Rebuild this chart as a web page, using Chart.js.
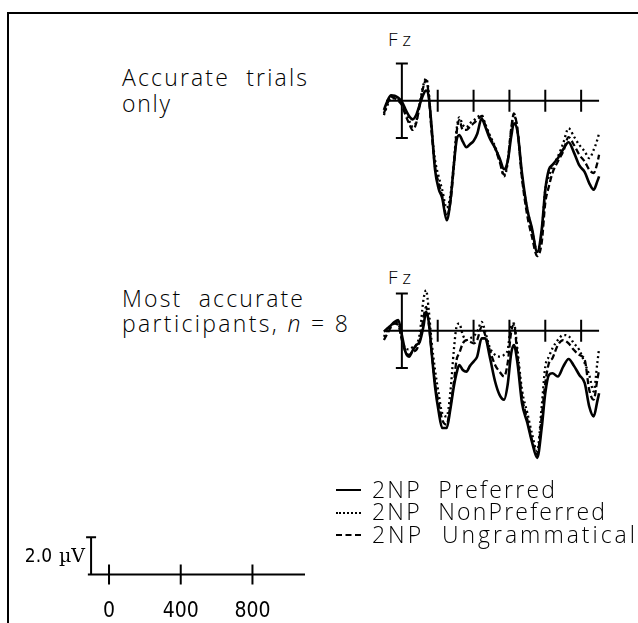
<!DOCTYPE html>
<html>
<head>
<meta charset="utf-8">
<script src="https://cdn.jsdelivr.net/npm/chart.js@4.4.1/dist/chart.umd.min.js"></script>
<style>
  body { margin: 0; background: #fff; }
  #fig { position: relative; width: 638px; height: 623px; overflow: hidden; background: #fff; }
  #frame { position: absolute; left: 7px; top: 12px; width: 700px; height: 700px;
           border-left: 2px solid #000; border-top: 2px solid #000; }
  .box { position: absolute; }
  .txt { position: absolute; font-family: 'Open Sans', Lato, 'DejaVu Sans', sans-serif; font-weight: 300;
         color: #000; white-space: pre; line-height: 1; }
  .big { font-size: 23px; }
  .fz { font-size: 19px; }
  .sample { position: absolute; left: 336px; width: 25px; height: 0; }
</style>
</head>
<body>
<div id="fig">
  <div id="frame"></div>

  <div class="txt big" data-w="185" style="left:122px;top:66px">Accurate  trials</div>
  <div class="txt big" data-w="48" style="left:122px;top:92px">only</div>
  <div class="txt big" data-w="181" style="left:122px;top:287px">Most  accurate</div>
  <div class="txt big" data-w="226" style="left:122px;top:312px">participants, <i>n</i> = 8</div>

  <div class="txt fz" data-w="23" style="left:388px;top:30px">Fz</div>
  <div class="txt fz" data-w="23" style="left:388px;top:268px">Fz</div>

  <div class="box" style="left:366px;top:45px"><canvas id="topPanel" width="251" height="223"></canvas></div>
  <div class="box" style="left:366px;top:275px"><canvas id="bottomPanel" width="251" height="223"></canvas></div>
  <div class="box" style="left:0px;top:500px"><canvas id="scaleBar" width="324" height="121"></canvas></div>

  <div class="sample" style="top:489px;border-top:2.5px solid #000"></div>
  <div class="sample" style="top:512px;border-top:2px dotted #000"></div>
  <div class="sample" style="top:534px;border-top:2.5px dashed #000"></div>
  <div class="txt big" data-w="183" style="left:372px;top:478px">2NP  Preferred</div>
  <div class="txt big" data-w="233" style="left:372px;top:500px">2NP  NonPreferred</div>
  <div class="txt big" data-w="263" style="left:372px;top:523px">2NP  Ungrammatical</div>
</div>

<script>
// time points (ms) shared by every trace
const timesMs = [-100, -80, -60, -40, -20, 0, 20, 40, 60, 80, 100, 120, 135, 150, 165, 185, 205, 225, 250, 270,
  290, 305, 320, 340, 360, 380, 400, 420, 445, 465, 490, 520, 545, 570, 590, 610, 625, 645, 670, 700,
  725, 755, 780, 800, 820, 840, 870, 900, 930, 960, 990, 1020, 1045, 1070, 1090, 1100];

// Accurate trials only (µV, negative plotted up)
const topPreferred = [0.50, 0.00, -0.29, -0.27, -0.16, 0.05, 0.46, 0.82, 1.00, 0.77, 0.20, -0.34, -0.55, -0.21, 1.30,
  3.71, 4.73, 5.23, 6.43, 5.46, 3.45, 2.14, 1.84, 2.20, 2.50, 2.34, 2.16, 1.79, 0.96, 1.39,
  2.02, 2.54, 3.09, 3.68, 3.27, 1.93, 1.21, 1.66, 3.89, 5.86, 6.84, 8.14, 6.93, 4.79, 3.71,
  3.45, 3.09, 2.61, 2.23, 2.79, 3.48, 3.84, 4.43, 4.79, 4.34, 4.07];
const topNonPreferred = [0.77, 0.23, -0.13, -0.13, -0.04, 0.14, 0.59, 1.04, 1.39, 1.13, 0.14, -0.84, -1.20, -0.48, 1.39,
  3.18, 4.07, 4.79, 5.77, 5.14, 3.36, 1.57, 0.89, 1.30, 1.43, 1.21, 1.07, 0.89, 0.77, 1.25,
  1.84, 2.46, 3.18, 4.07, 3.36, 1.57, 0.77, 1.57, 4.07, 5.86, 6.93, 8.09, 7.11, 4.79, 4.07,
  3.54, 3.00, 2.29, 1.48, 1.93, 2.38, 2.73, 3.09, 2.64, 2.11, 1.75];
const topUngrammatical = [0.68, 0.14, -0.21, -0.13, 0.00, 0.23, 0.77, 1.21, 1.57, 1.21, 0.23, -0.75, -1.11, -0.30, 1.57,
  3.54, 4.43, 5.14, 6.21, 5.50, 3.54, 1.75, 1.04, 1.57, 1.57, 1.39, 1.21, 1.04, 0.82, 1.30,
  1.93, 2.55, 3.27, 3.98, 3.27, 1.48, 0.68, 1.57, 4.16, 6.21, 7.29, 8.36, 7.64, 5.50, 4.61,
  3.89, 3.27, 2.73, 1.96, 2.38, 2.91, 3.27, 3.71, 3.89, 3.36, 2.91];

// Most accurate participants, n = 8
const bottomPreferred = [0.05, -0.13, -0.30, -0.48, -0.57, 0.23, 1.13, 1.39, 1.07, 0.77, 0.59, -0.21, -1.02, -0.48, 1.04,
  3.00, 4.34, 5.23, 5.23, 4.25, 3.00, 2.29, 1.84, 2.11, 2.20, 1.89, 1.66, 1.39, 0.41, 0.41,
  1.39, 2.73, 3.45, 3.71, 2.91, 1.21, 0.77, 1.75, 3.89, 4.96, 5.95, 6.84, 5.23, 3.36, 2.38,
  2.29, 2.46, 1.93, 1.52, 1.89, 2.38, 2.82, 4.07, 4.61, 3.80, 3.36];
const bottomNonPreferred = [0.32, -0.04, -0.21, -0.48, -0.39, 0.41, 0.95, 1.00, 0.89, 0.77, 0.14, -1.64, -2.18, -1.11, 0.50,
  2.11, 3.36, 4.43, 4.61, 3.36, 1.04, -0.21, -0.39, 0.23, 0.50, 0.41, 0.29, 0.05, -0.48, 0.05,
  0.89, 1.30, 1.39, 1.30, 1.04, -0.30, -0.39, 1.04, 3.18, 4.43, 5.50, 6.48, 4.07, 1.93, 1.39,
  0.95, 0.50, 0.23, 0.29, 0.68, 1.04, 1.75, 2.38, 3.27, 1.75, 0.95];
const bottomUngrammatical = [0.50, 0.14, -0.21, -0.39, -0.30, 0.50, 1.13, 1.30, 1.13, 1.04, 0.50, -0.66, -1.29, -0.39, 1.04,
  2.82, 3.89, 4.79, 5.05, 4.07, 2.82, 1.57, 1.21, 0.68, 0.50, 0.59, 0.68, 0.50, -0.21, 0.23,
  1.04, 1.84, 2.20, 2.46, 1.75, 0.05, -0.30, 1.39, 3.54, 4.79, 5.86, 6.66, 4.61, 2.82, 1.75,
  1.48, 0.77, 0.50, 0.68, 1.04, 1.30, 1.57, 3.18, 3.71, 2.64, 2.11];

// axis marks
const panelTicksMs = [200, 400, 600, 800, 1000];
const scaleTicksMs = [0, 400, 800];
const scaleTickLabels = ['0', '400', '800'];
const barMicroV = 2;

function points(values) {
  return timesMs.map((t, i) => ({ x: t, y: values[i] }));
}

// baseline, ticks and the +/-2 µV bar of each electrode panel
const panelAxes = {
  id: 'panelAxes',
  beforeDatasetsDraw(chart) {
    const { ctx, scales: { x, y } } = chart;
    const y0 = y.getPixelForValue(0);
    ctx.save();
    ctx.strokeStyle = '#000';
    ctx.lineWidth = 2;
    ctx.beginPath();
    ctx.moveTo(x.getPixelForValue(-88), y0);
    ctx.lineTo(x.getPixelForValue(1100), y0);
    panelTicksMs.forEach(t => {
      const px = x.getPixelForValue(t);
      ctx.moveTo(px, y0 - 11);
      ctx.lineTo(px, y0 + 11);
    });
    const bx = x.getPixelForValue(0);
    const yTop = y.getPixelForValue(-barMicroV);
    const yBot = y.getPixelForValue(barMicroV);
    ctx.moveTo(bx, yTop); ctx.lineTo(bx, yBot);
    ctx.moveTo(bx - 6, yTop); ctx.lineTo(bx + 6, yTop);
    ctx.moveTo(bx - 6, yBot); ctx.lineTo(bx + 6, yBot);
    ctx.stroke();
    ctx.restore();
  }
};

// calibration bar and time axis at the bottom left
const scaleAxes = {
  id: 'scaleAxes',
  afterDraw(chart) {
    const { ctx, scales: { x, y } } = chart;
    const y0 = y.getPixelForValue(0);
    ctx.save();
    ctx.strokeStyle = '#000';
    ctx.lineWidth = 2;
    ctx.beginPath();
    ctx.moveTo(x.getPixelForValue(-118), y0);
    ctx.lineTo(x.getPixelForValue(1093), y0);
    scaleTicksMs.forEach(t => {
      const px = x.getPixelForValue(t);
      ctx.moveTo(px, y0 - 10);
      ctx.lineTo(px, y0 + 10);
    });
    const bx = x.getPixelForValue(-100);
    const yTop = y.getPixelForValue(barMicroV);
    ctx.moveTo(bx, y0); ctx.lineTo(bx, yTop);
    ctx.moveTo(bx - 5, yTop); ctx.lineTo(bx + 5, yTop);
    ctx.stroke();

    ctx.fillStyle = '#000';
    ctx.font = "21px 'DejaVu Sans', sans-serif";
    if ('fontStretch' in ctx) ctx.fontStretch = 'condensed';
    ctx.textAlign = 'center';
    ctx.textBaseline = 'alphabetic';
    scaleTicksMs.forEach((t, i) => {
      ctx.fillText(scaleTickLabels[i], x.getPixelForValue(t), y0 + 43);
    });

    // "2.0 µV" next to the calibration bar
    const labelY = y0 - 12;
    ctx.textAlign = 'right';
    ctx.font = "19px 'DejaVu Serif', serif";
    if ('fontStretch' in ctx) ctx.fontStretch = 'normal';
    const unitRight = bx - 6;
    ctx.fillText('µV', unitRight, labelY);
    const unitW = ctx.measureText('µV').width;
    ctx.font = "19px 'DejaVu Sans', sans-serif";
    if ('fontStretch' in ctx) ctx.fontStretch = 'condensed';
    ctx.fillText(barMicroV.toFixed(1), unitRight - unitW - 7, labelY);
    ctx.restore();
  }
};

function traceSets(pref, nonPref, ungram) {
  return [
    { label: '2NP Preferred', data: points(pref), borderColor: '#000', borderWidth: 2.6 },
    { label: '2NP NonPreferred', data: points(nonPref), borderColor: '#000', borderWidth: 2.3, borderDash: [2, 3] },
    { label: '2NP Ungrammatical', data: points(ungram), borderColor: '#000', borderWidth: 2.3, borderDash: [6, 3] }
  ];
}

function baseOptions(xMin, xMax, yMin, yMax, reverse) {
  return {
    responsive: false,
    animation: false,
    events: [],
    layout: { padding: 0 },
    plugins: { legend: { display: false }, tooltip: { enabled: false } },
    elements: {
      point: { radius: 0 },
      line: { cubicInterpolationMode: 'monotone', borderJoinStyle: 'round', fill: false }
    },
    scales: {
      x: { type: 'linear', min: xMin, max: xMax, display: false },
      y: { type: 'linear', min: yMin, max: yMax, reverse: reverse, display: false }
    }
  };
}

new Chart(document.getElementById('topPanel'), {
  type: 'line',
  data: { datasets: traceSets(topPreferred, topNonPreferred, topUngrammatical) },
  options: baseOptions(-200, 1200, -3, 9, true),
  plugins: [panelAxes]
});

new Chart(document.getElementById('bottomPanel'), {
  type: 'line',
  data: { datasets: traceSets(bottomPreferred, bottomNonPreferred, bottomUngrammatical) },
  options: baseOptions(-200, 1200, -3, 9, true),
  plugins: [panelAxes]
});

// 324 px wide canvas from x = 0, same 0.179 px/ms scale as the panels (0 ms at x = 109)
new Chart(document.getElementById('scaleBar'), {
  type: 'line',
  data: { datasets: [] },
  options: baseOptions(-608, 1199, -2.5, 4, false),
  plugins: [scaleAxes]
});

// stretch the letter spacing so each label spans the same width as in the figure
document.querySelectorAll('.txt[data-w]').forEach(el => {
  el.style.letterSpacing = '0px';
  const n = el.textContent.length;
  const w = el.getBoundingClientRect().width;
  const target = parseFloat(el.dataset.w);
  el.style.letterSpacing = ((target - w) / Math.max(1, n - 1)) + 'px';
});
</script>
</body>
</html>
